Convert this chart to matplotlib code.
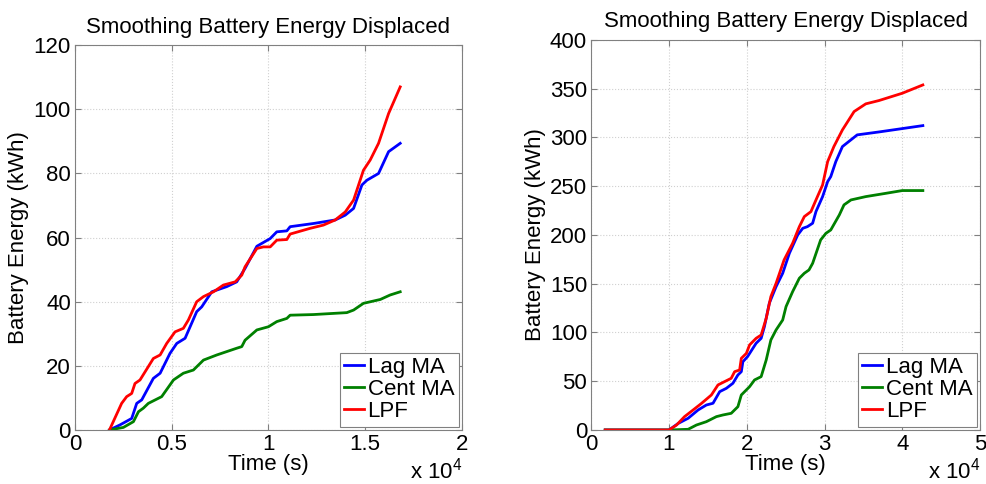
import matplotlib
matplotlib.use("Agg")
import matplotlib.pyplot as plt

plt.rcParams['font.family'] = ['Liberation Sans', 'DejaVu Sans']
plt.rcParams['mathtext.fontset'] = 'custom'
plt.rcParams['mathtext.rm'] = 'Liberation Sans'

title = "Smoothing Battery Energy Displaced"
xlabel = "Time (s)"
ylabel = "Battery Energy (kWh)"
series_names = ["Lag MA", "Cent MA", "LPF"]
colors = ["#0000ff", "#008000", "#ff0000"]

# ---- Left panel (time in units of 1e4 s) ----
L_lag_x = [0.178, 0.233, 0.293, 0.319, 0.345, 0.405, 0.44, 0.491, 0.526, 0.569, 0.629, 0.655,
           0.707, 0.784, 0.836, 0.879, 0.94, 1.009, 1.043, 1.095, 1.112, 1.233, 1.345, 1.397,
           1.44, 1.483, 1.509, 1.569, 1.621, 1.681]
L_lag_y = [0, 1.6, 3.6, 8.3, 9.4, 16.1, 17.7, 23.9, 27.0, 28.6, 36.9, 38.4,
           43.1, 44.7, 46.2, 50.4, 57.3, 59.7, 61.8, 62.1, 63.4, 64.4, 65.5, 67.0,
           69.1, 76.4, 77.9, 80.0, 86.8, 89.4]
L_cent_x = [0.178, 0.25, 0.302, 0.328, 0.353, 0.379, 0.448, 0.509, 0.56, 0.612, 0.664, 0.733,
            0.836, 0.862, 0.879, 0.94, 1.0, 1.043, 1.095, 1.112, 1.233, 1.405, 1.44, 1.491,
            1.578, 1.629, 1.681]
L_cent_y = [0, 0.8, 2.6, 5.7, 6.8, 8.3, 10.4, 15.6, 17.7, 18.7, 21.8, 23.4,
            25.5, 26.0, 28.0, 31.2, 32.2, 33.8, 34.8, 35.8, 36.0, 36.6, 37.4, 39.5,
            40.7, 42.1, 43.1]
L_lpf_x = [0.178, 0.241, 0.267, 0.293, 0.31, 0.336, 0.405, 0.44, 0.474, 0.517, 0.56, 0.586,
           0.629, 0.664, 0.716, 0.767, 0.828, 0.862, 0.879, 0.94, 0.974, 1.009, 1.043, 1.095,
           1.112, 1.216, 1.284, 1.345, 1.397, 1.44, 1.491, 1.526, 1.569, 1.621, 1.681]
L_lpf_y = [0, 8.3, 10.4, 11.4, 14.5, 15.6, 22.3, 23.4, 27.0, 30.6, 31.7, 34.3,
           40.0, 41.6, 43.1, 45.2, 46.2, 48.3, 50.9, 56.6, 57.1, 57.1, 59.2, 59.4,
           61.1, 62.9, 63.9, 65.5, 68.0, 71.7, 81.0, 84.2, 89.4, 98.7, 107.0]

# ---- Right panel ----
R_lag_x = [0.18, 1.0, 1.12, 1.246, 1.374, 1.48, 1.566, 1.652, 1.737, 1.822, 1.886, 1.93, 1.95,
           2.01, 2.12, 2.185, 2.227, 2.29, 2.377, 2.462, 2.548, 2.655, 2.72, 2.78, 2.847,
           2.89, 2.975, 3.04, 3.08, 3.145, 3.23, 3.42, 3.70, 4.264]
R_lag_y = [0, 0, 6.8, 12.0, 20.5, 25.6, 27.4, 39.3, 42.7, 47.9, 56.4, 59.8, 70.0,
           75.2, 88.9, 94.0, 106.0, 130.0, 147.0, 160.7, 181.2, 200.0, 206.8, 208.5, 212.0,
           224.0, 239.3, 254.7, 259.8, 275.2, 290.6, 302.6, 305.6, 312.1]
R_cent_x = [0.18, 1.0, 1.246, 1.353, 1.48, 1.61, 1.694, 1.8, 1.886, 1.93, 2.036, 2.1, 2.185,
            2.25, 2.31, 2.377, 2.462, 2.505, 2.59, 2.676, 2.74, 2.80, 2.847, 2.95, 3.018,
            3.08, 3.19, 3.25, 3.34, 3.53, 3.79, 4.0, 4.264]
R_cent_y = [0, 0, 0.7, 5.1, 8.5, 13.7, 15.4, 17.1, 23.9, 35.9, 44.4, 51.3, 54.7,
            71.8, 92.3, 102.6, 112.8, 126.5, 141.9, 155.6, 160.7, 164.1, 170.9, 194.9, 201.7,
            205.1, 220.5, 230.8, 235.9, 239.3, 242.7, 245.5, 245.5]
R_lpf_x = [0.18, 1.0, 1.097, 1.2, 1.31, 1.42, 1.545, 1.63, 1.715, 1.8, 1.844, 1.908, 1.93,
           1.995, 2.036, 2.12, 2.185, 2.25, 2.31, 2.377, 2.48, 2.59, 2.676, 2.74, 2.825,
           2.89, 2.975, 3.04, 3.12, 3.23, 3.38, 3.53, 3.70, 4.0, 4.264]
R_lpf_y = [0, 0, 5.1, 13.7, 20.5, 27.4, 35.9, 46.2, 49.6, 53.0, 59.8, 61.5, 73.5,
           78.6, 87.2, 94.0, 97.4, 114.5, 136.8, 150.4, 174.4, 191.5, 208.5, 218.8, 223.9,
           235.9, 251.3, 275.2, 290.6, 307.7, 326.5, 334.4, 337.8, 345.3, 353.8]

left_xticks = [0, 0.5, 1, 1.5, 2]
left_xticklabels = ["0", "0.5", "1", "1.5", "2"]
left_yticks = [0, 20, 40, 60, 80, 100, 120]
right_xticks = [0, 1, 2, 3, 4, 5]
right_xticklabels = ["0", "1", "2", "3", "4", "5"]
right_yticks = [0, 50, 100, 150, 200, 250, 300, 350, 400]

FS = 16
fig = plt.figure(figsize=(9.87, 4.84), dpi=100)
ax1 = fig.add_axes([0.076, 0.1116, 0.392, 0.795])
ax2 = fig.add_axes([0.599, 0.1116, 0.394, 0.806])


def style(ax, xticks, xticklabels, yticks, xlim, ylim):
    ax.set_xlim(*xlim)
    ax.set_ylim(*ylim)
    ax.set_xticks(xticks)
    ax.set_xticklabels(xticklabels)
    ax.set_yticks(yticks)
    ax.tick_params(direction='in', length=4, width=0.8, color='#808080',
                   labelsize=FS, pad=3, top=True, right=True)
    for s in ax.spines.values():
        s.set_color('#808080')
        s.set_linewidth(0.8)
    ax.grid(True, linestyle=':', color='#d0d0d0', linewidth=0.8)
    ax.set_axisbelow(True)
    ax.set_title(title, fontsize=FS, pad=9)
    ax.set_xlabel(xlabel, fontsize=FS, labelpad=-1)
    ax.set_ylabel(ylabel, fontsize=FS, labelpad=3)
    ax.text(0.865, -0.105, r'x 10$^{\mathregular{4}}$', transform=ax.transAxes,
            fontsize=FS, ha='left', va='center')


lw = 2.0
for xs, ys, name, c in [(L_lag_x, L_lag_y, series_names[0], colors[0]),
                        (L_cent_x, L_cent_y, series_names[1], colors[1]),
                        (L_lpf_x, L_lpf_y, series_names[2], colors[2])]:
    ax1.plot(xs, ys, color=c, lw=lw, label=name)
for xs, ys, name, c in [(R_lag_x, R_lag_y, series_names[0], colors[0]),
                        (R_cent_x, R_cent_y, series_names[1], colors[1]),
                        (R_lpf_x, R_lpf_y, series_names[2], colors[2])]:
    ax2.plot(xs, ys, color=c, lw=lw, label=name)

style(ax1, left_xticks, left_xticklabels, left_yticks, (0, 2), (0, 120))
style(ax2, right_xticks, right_xticklabels, right_yticks, (0, 5), (0, 400))

for ax in (ax1, ax2):
    leg = ax.legend(loc='lower right', fontsize=FS, handlelength=0.9, handletextpad=0.15,
                    borderpad=0.2, labelspacing=0.05, borderaxespad=0.15,
                    fancybox=False, framealpha=1, edgecolor='#808080')
    leg.get_frame().set_linewidth(0.8)

fig.savefig("out.png", dpi=100)
